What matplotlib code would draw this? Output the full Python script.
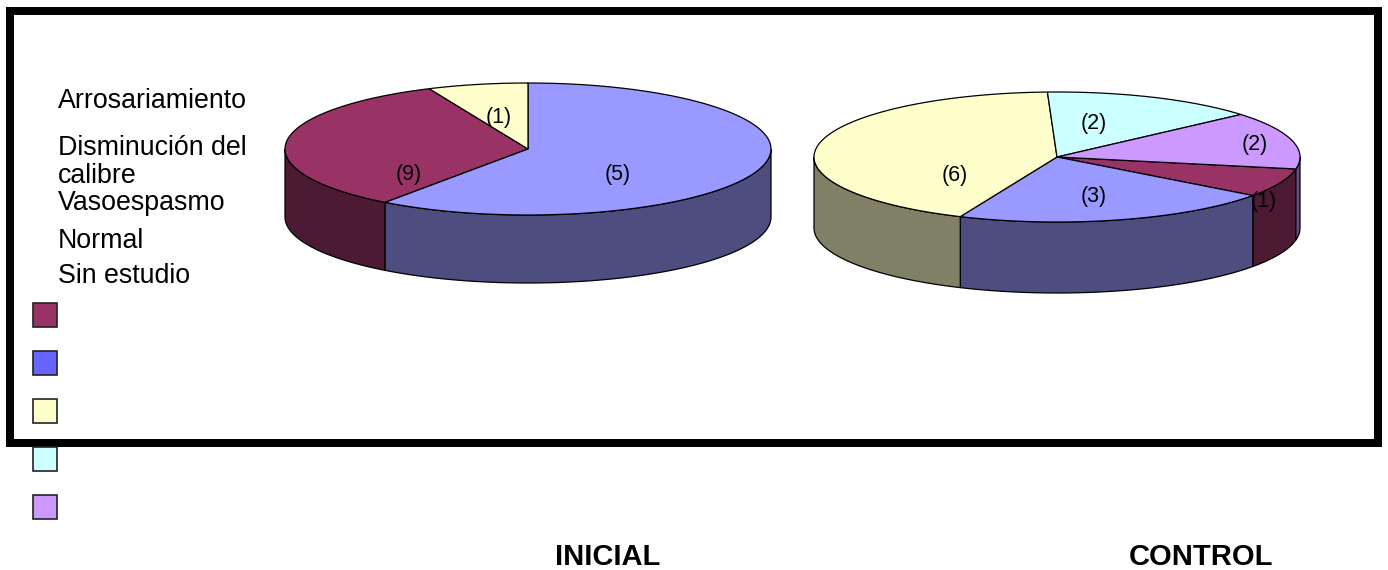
import numpy as np
import matplotlib
matplotlib.use('Agg')
import matplotlib.pyplot as plt
from matplotlib.patches import Polygon, Rectangle

plt.rcParams['font.family'] = ['Liberation Sans', 'DejaVu Sans']

# ---- data ----
categories = ['Arrosariamiento', 'Disminución del\ncalibre', 'Vasoespasmo', 'Normal', 'Sin estudio']
inicial = [5, 9, 1, 0, 0]
control = [1, 3, 6, 2, 2]
inicial_labels = ['(9)', '(5)', '(1)', '', '']
control_labels = ['(1)', '(3)', '(6)', '(2)', '(2)']
titles = ['INICIAL', 'CONTROL']

top_colors = ['#993366', '#9999FF', '#FFFFCC', '#CCFFFF', '#CC99FF']
legend_colors = ['#993366', '#6666FF', '#FFFFCC', '#CCFFFF', '#CC99FF']


def darker(c):
    r, g, b = matplotlib.colors.to_rgb(c)
    return (r * 0.5, g * 0.5, b * 0.5)


def pt(cx, cy, rx, ry, t):
    t = np.radians(t)
    return cx + rx * np.cos(t), cy - ry * np.sin(t)


def draw_pie3d(ax, values, labels, cx, cy, rx, ry, depth, start, ccw, label_pos):
    vals = np.array(values, dtype=float)
    ang = vals / vals.sum() * 360.0
    cum = np.concatenate([[0], np.cumsum(ang)])
    spans = []
    for i in range(len(vals)):
        if ccw:
            a, b = start + cum[i], start + cum[i + 1]
        else:
            a, b = start - cum[i + 1], start - cum[i]
        spans.append((a, b))

    # side walls (front half only)
    for i, (a, b) in enumerate(spans):
        if vals[i] == 0:
            continue
        for k in range(-2, 3):
            lo = max(a, 180 + 360 * k)
            hi = min(b, 360 + 360 * k)
            if hi <= lo:
                continue
            t = np.linspace(lo, hi, 80)
            xs, ys = pt(cx, cy, rx, ry, t)
            poly = np.column_stack([np.concatenate([xs, xs[::-1]]),
                                    np.concatenate([ys, ys[::-1] + depth])])
            ax.add_patch(Polygon(poly, closed=True, facecolor=darker(top_colors[i]),
                                 edgecolor='black', lw=0.9, zorder=2))

    # top faces
    for i, (a, b) in enumerate(spans):
        if vals[i] == 0:
            continue
        t = np.linspace(a, b, 120)
        xs, ys = pt(cx, cy, rx, ry, t)
        poly = np.column_stack([np.concatenate([[cx], xs]), np.concatenate([[cy], ys])])
        ax.add_patch(Polygon(poly, closed=True, facecolor=top_colors[i],
                             edgecolor='black', lw=0.9, zorder=3))

    for i, lab in enumerate(labels):
        if not lab:
            continue
        u, v = label_pos[i]
        ax.text(cx + u * rx, cy - v * ry, lab, ha='center', va='center',
                fontsize=15.5, zorder=5)


fig = plt.figure(figsize=(13.88, 5.70), dpi=100)
ax = fig.add_axes([0, 0, 1, 1])
ax.set_xlim(0, 1388)
ax.set_ylim(570, 0)
ax.axis('off')

# frame
ax.add_patch(Rectangle((10, 11), 1368, 432, fill=False, edgecolor='black',
                       lw=5.76, joinstyle='miter', zorder=1))

draw_pie3d(ax, inicial, inicial_labels, 528, 149, 243, 66, 68, start=114, ccw=True,
           label_pos=[(-0.49, -0.38), (0.37, -0.38), (-0.12, 0.47), None, None])
draw_pie3d(ax, control, control_labels, 1057, 157, 243, 65, 71, start=-10.6, ccw=False,
           label_pos=[(0.85, -0.69), (0.15, -0.615), (-0.42, -0.28), (0.15, 0.52), (0.815, 0.185)])

# legend text (misaligned from the keys, as in the original)
text_y = [108, 155, 210, 248, 283]
for name, y in zip(categories, text_y):
    for j, line in enumerate(name.split('\n')):
        ax.text(58, y + j * 28, line, fontsize=19.3, va='baseline', ha='left', zorder=5)

# legend keys
for i, c in enumerate(legend_colors):
    ax.add_patch(Rectangle((33, 303 + i * 48), 24, 24, facecolor=c,
                           edgecolor='#222222', lw=1.2, zorder=6))

ax.text(608, 565, titles[0], fontsize=21, fontweight='bold', ha='center', va='baseline')
ax.text(1201, 565, titles[1], fontsize=21, fontweight='bold', ha='center', va='baseline')

fig.savefig('out.png', dpi=100)
